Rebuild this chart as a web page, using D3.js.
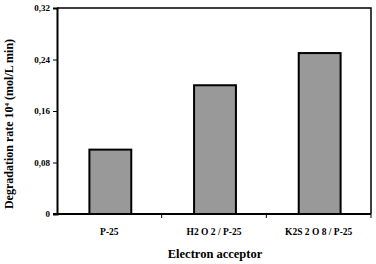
<!DOCTYPE html>
<html>
<head>
<meta charset="utf-8">
<script src="https://cdn.jsdelivr.net/npm/d3@7"></script>
<style>
  body { margin: 0; background: #fff; }
  text { font-family: "Liberation Serif", serif; font-weight: bold; fill: #000; }
</style>
</head>
<body>
<svg width="376" height="264"></svg>
<script>
const categories = ["P-25", "H2 O 2 / P-25", "K2S 2 O 8 / P-25"];
const rates = [0.10, 0.20, 0.25];
const yTicks = [0, 0.08, 0.16, 0.24, 0.32];

const width = 376, height = 264;
const margin = { top: 8, right: 5, bottom: 50, left: 57 };
const svg = d3.select("svg");

const x = d3.scaleBand()
    .domain(categories)
    .range([margin.left, width - margin.right])
    .paddingInner(0.6)
    .paddingOuter(0.3);

const y = d3.scaleLinear()
    .domain([0, 0.32])
    .range([height - margin.bottom, margin.top]);

// plot frame (top + right)
svg.append("path")
    .attr("d", `M${margin.left},${margin.top}H${width - margin.right}V${height - margin.bottom}`)
    .attr("fill", "none")
    .attr("stroke", "#000")
    .attr("stroke-width", 1.5);

// bars
svg.selectAll("rect.bar")
    .data(rates)
    .join("rect")
    .attr("class", "bar")
    .attr("x", (d, i) => x(categories[i]) + 1)
    .attr("width", x.bandwidth())
    .attr("y", d => y(d))
    .attr("height", d => y(0) - y(d))
    .attr("fill", "#999999")
    .attr("stroke", "#000")
    .attr("stroke-width", 2);

// y axis
const fmt = d => d === 0 ? "0" : d3.format(".2f")(d).replace(".", ",");
const yAxis = svg.append("g")
    .attr("transform", `translate(${margin.left},0)`)
    .call(d3.axisLeft(y).tickValues(yTicks).tickFormat(fmt).tickSize(4).tickPadding(3));
yAxis.select(".domain").attr("stroke-width", 2);
yAxis.selectAll("text").style("font-size", "9px").style("font-family", "Liberation Serif").style("font-weight", "bold");

// x axis: ticks at category boundaries
const bounds = d3.range(categories.length + 1).map(i => margin.left + i * (width - margin.left - margin.right) / categories.length);
const xg = svg.append("g");
xg.append("line")
    .attr("x1", margin.left - 4).attr("x2", width - margin.right)
    .attr("y1", y(0)).attr("y2", y(0))
    .attr("stroke", "#000").attr("stroke-width", 2);
xg.selectAll("line.tick")
    .data(bounds.slice(1))
    .join("line")
    .attr("class", "tick")
    .attr("x1", d => d).attr("x2", d => d)
    .attr("y1", y(0)).attr("y2", y(0) + 4)
    .attr("stroke", "#000").attr("stroke-width", 1);
xg.selectAll("text")
    .data(categories)
    .join("text")
    .attr("x", d => x(d) + x.bandwidth() / 2)
    .attr("y", 235)
    .attr("text-anchor", "middle")
    .style("font-size", "9.5px")
    .text(d => d);

// axis titles
svg.append("text")
    .attr("x", (margin.left + width - margin.right) / 2 + 1)
    .attr("y", 258)
    .attr("text-anchor", "middle")
    .style("font-size", "12.5px")
    .text("Electron acceptor");

const yt = svg.append("text")
    .attr("transform", `translate(13,${(margin.top + y(0)) / 2 + 13}) rotate(-90)`)
    .attr("text-anchor", "middle")
    .style("font-size", "12px");
yt.append("tspan").text("Degradation rate 10");
yt.append("tspan").attr("dy", -4).style("font-size", "7px").text("4");
yt.append("tspan").attr("dy", 4).text(" (mol/L min)");
</script>
</body>
</html>
